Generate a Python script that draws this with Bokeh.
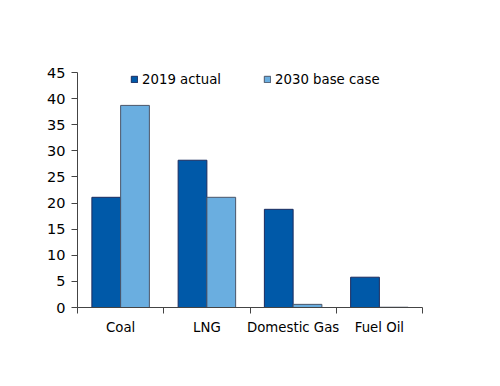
from bokeh.plotting import figure
from bokeh.models import (ColumnDataSource, Range1d, FixedTicker, Legend, LegendItem)
from bokeh.embed import file_html
from bokeh.resources import INLINE

categories = ["Coal", "LNG", "Domestic Gas", "Fuel Oil"]
actual_2019 = [21.1, 28.2, 18.8, 5.8]
base_2030 = [38.7, 21.1, 0.6, 0.05]
series_names = ["2019 actual", "2030 base case"]
y_ticks = [0, 5, 10, 15, 20, 25, 30, 35, 40, 45]

FONT = "DejaVu Sans"
FS = "13.3px"
FS_Y = "14.5px"
DARK = "#0059a8"
LIGHT = "#6aaee0"

n = len(categories)
bar_w = 1 / 3
centers = [i + 0.5 for i in range(n)]
src = ColumnDataSource(dict(
    cat=categories,
    x1=[c - bar_w / 2 for c in centers],
    x2=[c + bar_w / 2 for c in centers],
    a=actual_2019,
    b=base_2030,
))

p = figure(width=484, height=370, output_backend="svg", toolbar_location=None,
           x_range=Range1d(0, n), y_range=Range1d(0, 45),
           min_border_left=77, min_border_right=62, min_border_top=72, min_border_bottom=63)
p.outline_line_color = None
p.xgrid.grid_line_color = None
p.ygrid.grid_line_color = None
p.background_fill_color = "white"
p.border_fill_color = "white"

r1 = p.vbar(x="x1", top="a", width=bar_w, source=src, fill_color=DARK,
            line_color="#1b2b5e", line_width=1)
r2 = p.vbar(x="x2", top="b", width=bar_w, source=src, fill_color=LIGHT,
            line_color="#4a5568", line_width=1)

# y axis
ya = p.yaxis[0]
ya.ticker = FixedTicker(ticks=y_ticks)
ya.major_tick_out = 6
ya.major_tick_in = 0
ya.minor_tick_out = 0
ya.minor_tick_in = 0
ya.major_label_standoff = 6
ya.axis_line_color = "#444444"
ya.major_tick_line_color = "#444444"
ya.major_label_text_font = FONT
ya.major_label_text_font_size = FS_Y
ya.major_label_text_color = "black"

# x axis: labels at category centres, tick marks at boundaries
xa = p.xaxis[0]
xa.ticker = FixedTicker(ticks=centers, minor_ticks=list(range(n + 1)))
xa.major_label_overrides = {c: name for c, name in zip(centers, categories)}
xa.major_tick_out = 0
xa.major_tick_in = 0
xa.minor_tick_out = 6
xa.minor_tick_in = 0
xa.major_label_standoff = 6
xa.axis_line_color = "#444444"
xa.minor_tick_line_color = "#444444"
xa.major_label_text_font = FONT
xa.major_label_text_font_size = FS
xa.major_label_text_color = "black"

def make_legend(label, renderer, x):
    lg = Legend(items=[LegendItem(label=label, renderers=[renderer])],
                location=(x, 220), orientation="horizontal",
                padding=0, margin=0, spacing=0,
                glyph_width=8, glyph_height=8, label_standoff=4,
                label_height=16, label_text_font=FONT,
                label_text_font_size=FS, label_text_color="black",
                border_line_color=None, background_fill_alpha=0)
    p.add_layout(lg, "center")

make_legend(series_names[0], r1, 53)
make_legend(series_names[1], r2, 186)

open("out.html", "w").write(file_html(p, INLINE))
